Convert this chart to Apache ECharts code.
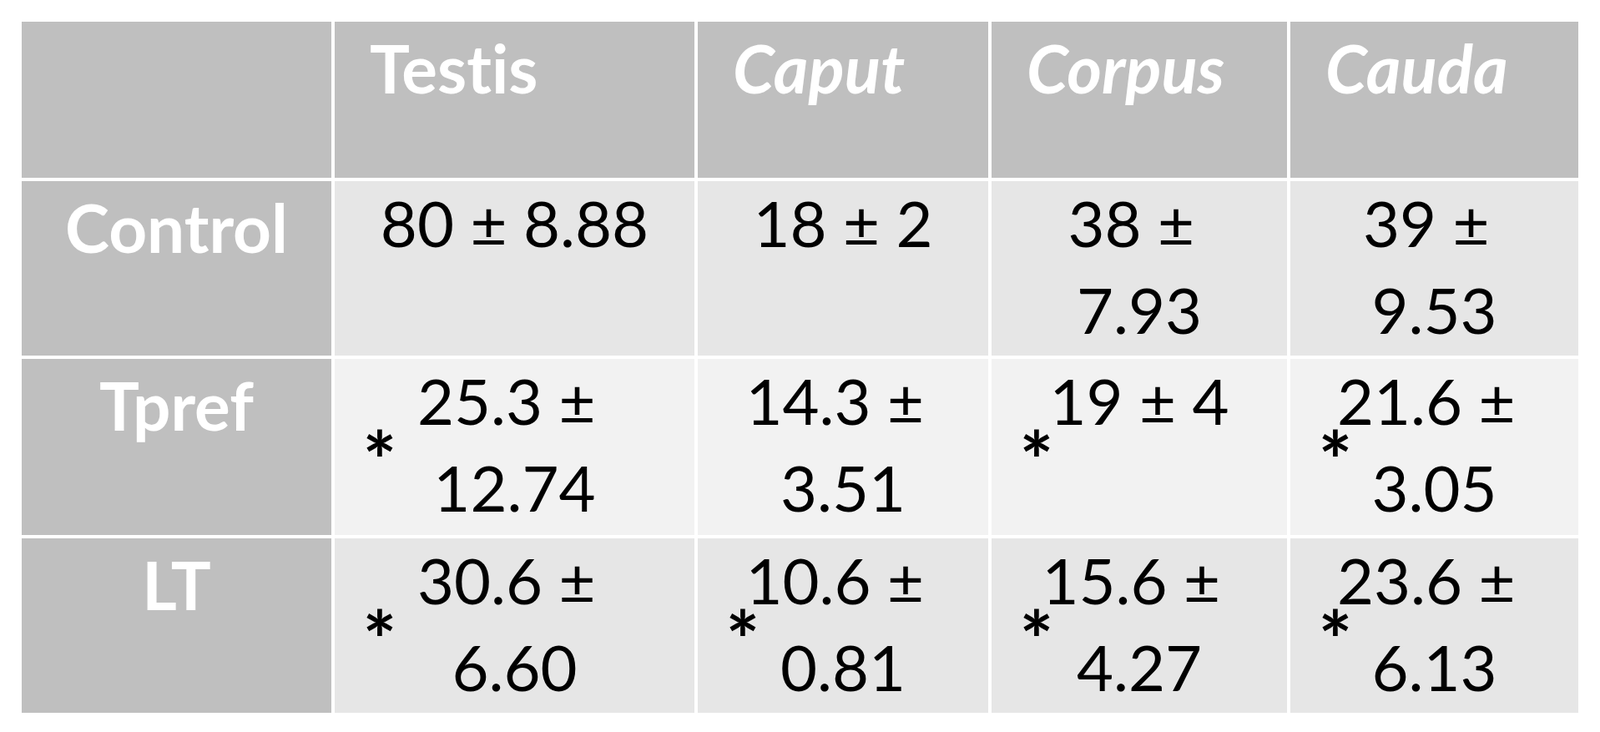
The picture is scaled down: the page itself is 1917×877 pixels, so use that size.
<!DOCTYPE html>
<html><head><meta charset="utf-8">
<script src="https://cdn.jsdelivr.net/npm/echarts@6/dist/echarts.min.js"></script>
<style>html,body{margin:0;background:#fff}#chart{width:1917px;height:877px}</style>
</head><body><div id="chart"></div>
<script>
const columns = ["Testis", "Caput", "Corpus", "Cauda"];
const italicCols = [false, true, true, true];
const groups = ["Control", "Tpref", "LT"];
const means = [
	["80", "18", "38", "39"],
	["25.3", "14.3", "19", "21.6"],
	["30.6", "10.6", "15.6", "23.6"]
];
const sds = [
	["8.88", "2", "7.93", "9.53"],
	["12.74", "3.51", "4", "3.05"],
	["6.60", "0.81", "4.27", "6.13"]
];
const significant = [
	[false, false, false, false],
	[true, false, true, true],
	[true, true, true, true]
];

// table layout (pixel space of the axes)
const colEdges = [24, 399, 834, 1186, 1544, 1893];
const rowEdges = [24, 215, 428, 643, 856];
const rowFill = ["#bfbfbf", "#e6e6e6", "#f2f2f2", "#e6e6e6"];
const font = "Lato, 'Open Sans', sans-serif";

const cells = [];
for (let r = 0; r < rowEdges.length - 1; r++) {
	for (let c = 0; c < colEdges.length - 1; c++) {
		let text = "", kind = "body", star = false;
		if (r === 0 && c > 0) { text = columns[c - 1]; kind = italicCols[c - 1] ? "headItalic" : "headTop"; if (italicCols[c - 1]) kind = "headItalic"; }
		else if (r > 0 && c === 0) { text = groups[r - 1]; kind = "head"; }
		else if (r > 0) { text = means[r - 1][c - 1] + " ± " + sds[r - 1][c - 1]; star = significant[r - 1][c - 1]; }
		cells.push({ value: [colEdges[c], colEdges[c + 1], rowEdges[r], rowEdges[r + 1]], text, kind, star, top: r === 0, fill: (r === 0 || c === 0) ? "#bfbfbf" : rowFill[r] });
	}
}

const chart = echarts.init(document.getElementById("chart"));
chart.setOption({
	animation: false,
	grid: { left: 0, right: 0, top: 0, bottom: 0 },
	xAxis: { type: "value", min: 0, max: 1917, show: false },
	yAxis: { type: "value", min: 0, max: 877, inverse: true, show: false },
	series: [{
		type: "custom",
		data: cells,
		renderItem: (params, api) => {
			const d = cells[params.dataIndex];
			const p0 = api.coord([api.value(0), api.value(2)]);
			const p1 = api.coord([api.value(1), api.value(3)]);
			const w = p1[0] - p0[0], h = p1[1] - p0[1];
			const isHead = d.kind !== "body";
			const children = [{
				type: "rect",
				shape: { x: p0[0], y: p0[1], width: w, height: h },
				style: { fill: d.fill, stroke: "#ffffff", lineWidth: 4 }
			}, {
				type: "text",
				x: d.top ? p0[0] + 44 : p0[0] + w / 2, y: p0[1] + (isHead ? 10 : 4),
				style: {
					// zero-width non-joiner stops the "ti" ligature
					text: d.text.replace(/ti/g, "t\u200Ci"), width: w - 80, overflow: "break",
					align: d.top ? "left" : "center", verticalAlign: "top", lineHeight: 104,
					fontFamily: font, fontSize: isHead ? 80 : 76,
					fontWeight: isHead ? "bold" : "normal",
					fontStyle: d.kind === "headItalic" ? "italic" : "normal",
					fill: isHead ? "#ffffff" : "#000000"
				}
			}];
			if (d.star) children.push({
				type: "text",
				x: p0[0] + 56, y: p0[1] + 128,
				style: { text: "*", align: "center", verticalAlign: "middle", fontFamily: font, fontSize: 96, fontWeight: "bold", fill: "#000" }
			});
			return { type: "group", children };
		}
	}]
});
window.onresize = chart.resize;
</script></body></html>
